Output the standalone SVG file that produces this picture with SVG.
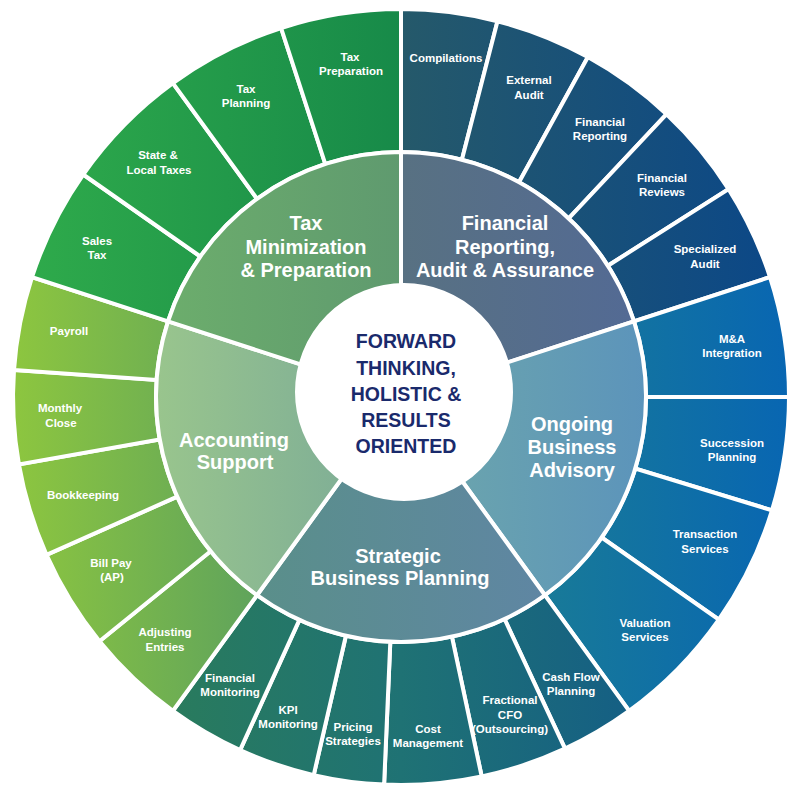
<svg xmlns="http://www.w3.org/2000/svg" width="800" height="800" viewBox="0 0 800 800">
<style>
.seg{stroke:#fff;stroke-width:4;stroke-linejoin:miter}
.o{font-family:"Liberation Sans",Arial,sans-serif;font-weight:bold;font-size:11.5px;fill:#fff;text-anchor:middle}
.i{font-family:"Liberation Sans",Arial,sans-serif;font-weight:bold;font-size:20px;fill:#fff;text-anchor:middle}
.c{font-family:"Liberation Sans",Arial,sans-serif;font-weight:bold;font-size:19.5px;fill:#1a2a6c;text-anchor:middle}
</style>
<defs>
<linearGradient id="gTaxO" gradientUnits="userSpaceOnUse" x1="20" y1="0" x2="401" y2="0"><stop offset="0" stop-color="#2fab4b"/><stop offset="1" stop-color="#178a49"/></linearGradient>
<linearGradient id="gAccO" gradientUnits="userSpaceOnUse" x1="13" y1="0" x2="260" y2="0"><stop offset="0" stop-color="#8dc63f"/><stop offset="1" stop-color="#5fa35c"/></linearGradient>
<linearGradient id="gStrO" gradientUnits="userSpaceOnUse" x1="172" y1="0" x2="630" y2="0"><stop offset="0" stop-color="#297b5d"/><stop offset="0.5" stop-color="#1f7274"/><stop offset="1" stop-color="#155f84"/></linearGradient>
<linearGradient id="gOngO" gradientUnits="userSpaceOnUse" x1="545" y1="0" x2="789" y2="0"><stop offset="0" stop-color="#187a98"/><stop offset="1" stop-color="#0866b2"/></linearGradient>
<linearGradient id="gFinO" gradientUnits="userSpaceOnUse" x1="401" y1="0" x2="770" y2="0"><stop offset="0" stop-color="#25596a"/><stop offset="1" stop-color="#0c4887"/></linearGradient>
<linearGradient id="gTaxI" gradientUnits="userSpaceOnUse" x1="168" y1="0" x2="401" y2="0"><stop offset="0" stop-color="#6cad6c"/><stop offset="1" stop-color="#5f9a6f"/></linearGradient>
<linearGradient id="gFinI" gradientUnits="userSpaceOnUse" x1="401" y1="0" x2="634" y2="0"><stop offset="0" stop-color="#587182"/><stop offset="1" stop-color="#536a94"/></linearGradient>
<linearGradient id="gOngI" gradientUnits="userSpaceOnUse" x1="401" y1="0" x2="646" y2="0"><stop offset="0" stop-color="#6ea8aa"/><stop offset="1" stop-color="#5c94bb"/></linearGradient>
<linearGradient id="gStrI" gradientUnits="userSpaceOnUse" x1="257" y1="0" x2="545" y2="0"><stop offset="0" stop-color="#5a8f8a"/><stop offset="1" stop-color="#5f86a3"/></linearGradient>
<linearGradient id="gAccI" gradientUnits="userSpaceOnUse" x1="156" y1="0" x2="401" y2="0"><stop offset="0" stop-color="#99c58d"/><stop offset="1" stop-color="#79a998"/></linearGradient>
</defs>
<rect width="800" height="800" fill="#fff"/>

<g id="outer-ring">
<g id="fin-outer" fill="url(#gFinO)">
<path class="seg" d="M401 9 A388 388 0 0 1 497.5 21.2 L461.9 159.7 A245 245 0 0 0 401 152 Z"/>
<path class="seg" d="M497.5 21.2 A388 388 0 0 1 587.9 57 L519 182.3 A245 245 0 0 0 461.9 159.7 Z"/>
<path class="seg" d="M587.9 57 A388 388 0 0 1 666.6 114.2 L568.7 218.4 A245 245 0 0 0 519 182.3 Z"/>
<path class="seg" d="M666.6 114.2 A388 388 0 0 1 728.6 189.1 L607.9 265.7 A245 245 0 0 0 568.7 218.4 Z"/>
<path class="seg" d="M728.6 189.1 A388 388 0 0 1 770 277.1 L634 321.3 A245 245 0 0 0 607.9 265.7 Z"/>
</g>
<g id="ong-outer" fill="url(#gOngO)">
<path class="seg" d="M770 277.1 A388 388 0 0 1 789 397 L646 397 A245 245 0 0 0 634 321.3 Z"/>
<path class="seg" d="M789 397 A388 388 0 0 1 772 510.4 L635.3 468.6 A245 245 0 0 0 646 397 Z"/>
<path class="seg" d="M772 510.4 A388 388 0 0 1 718.8 619.6 L601.7 537.5 A245 245 0 0 0 635.3 468.6 Z"/>
<path class="seg" d="M718.8 619.6 A388 388 0 0 1 629.1 710.9 L545 595.2 A245 245 0 0 0 601.7 537.5 Z"/>
</g>
<g id="str-outer" fill="url(#gStrO)">
<path class="seg" d="M629.1 710.9 A388 388 0 0 1 565 748.6 L504.5 619 A245 245 0 0 0 545 595.2 Z"/>
<path class="seg" d="M565 748.6 A388 388 0 0 1 481.7 776.5 L451.9 636.6 A245 245 0 0 0 504.5 619 Z"/>
<path class="seg" d="M481.7 776.5 A388 388 0 0 1 384.1 784.6 L390.3 641.8 A245 245 0 0 0 451.9 636.6 Z"/>
<path class="seg" d="M384.1 784.6 A388 388 0 0 1 313.7 775.1 L345.9 635.7 A245 245 0 0 0 390.3 641.8 Z"/>
<path class="seg" d="M313.7 775.1 A388 388 0 0 1 240.1 750.1 L299.4 619.9 A245 245 0 0 0 345.9 635.7 Z"/>
<path class="seg" d="M240.1 750.1 A388 388 0 0 1 172.9 710.9 L257 595.2 A245 245 0 0 0 299.4 619.9 Z"/>
</g>
<g id="acc-outer" fill="url(#gAccO)">
<path class="seg" d="M172.9 710.9 A388 388 0 0 1 99.5 641.2 L210.6 551.2 A245 245 0 0 0 257 595.2 Z"/>
<path class="seg" d="M99.5 641.2 A388 388 0 0 1 46.5 554.8 L177.2 496.7 A245 245 0 0 0 210.6 551.2 Z"/>
<path class="seg" d="M46.5 554.8 A388 388 0 0 1 18.9 464.4 L159.7 439.5 A245 245 0 0 0 177.2 496.7 Z"/>
<path class="seg" d="M18.9 464.4 A388 388 0 0 1 14 369.9 L156.6 379.9 A245 245 0 0 0 159.7 439.5 Z"/>
<path class="seg" d="M14 369.9 A388 388 0 0 1 32 277.1 L168 321.3 A245 245 0 0 0 156.6 379.9 Z"/>
</g>
<g id="tax-outer" fill="url(#gTaxO)">
<path class="seg" d="M32 277.1 A388 388 0 0 1 83.2 174.5 L200.3 256.5 A245 245 0 0 0 168 321.3 Z"/>
<path class="seg" d="M83.2 174.5 A388 388 0 0 1 172.9 83.1 L257 198.8 A245 245 0 0 0 200.3 256.5 Z"/>
<path class="seg" d="M172.9 83.1 A388 388 0 0 1 281.1 28 L325.3 164 A245 245 0 0 0 257 198.8 Z"/>
<path class="seg" d="M281.1 28 A388 388 0 0 1 401 9 L401 152 A245 245 0 0 0 325.3 164 Z"/>
</g>
</g>

<g id="inner-ring">
<path id="fin-inner" class="seg" fill="url(#gFinI)" d="M401 397 L401 152 A245 245 0 0 1 634 321.3 Z"/>
<path id="ong-inner" class="seg" fill="url(#gOngI)" d="M401 397 L634 321.3 A245 245 0 0 1 545 595.2 Z"/>
<path id="str-inner" class="seg" fill="url(#gStrI)" d="M401 397 L545 595.2 A245 245 0 0 1 257 595.2 Z"/>
<path id="acc-inner" class="seg" fill="url(#gAccI)" d="M401 397 L257 595.2 A245 245 0 0 1 168 321.3 Z"/>
<path id="tax-inner" class="seg" fill="url(#gTaxI)" d="M401 397 L168 321.3 A245 245 0 0 1 401 152 Z"/>
</g>

<g id="center">
<circle cx="404" cy="392" r="108" fill="#fff" stroke="#fff" stroke-width="2"/>
<text class="c" x="406" y="348">FORWARD</text>
<text class="c" x="406" y="374.5">THINKING,</text>
<text class="c" x="406" y="400.5">HOLISTIC &amp;</text>
<text class="c" x="406" y="427">RESULTS</text>
<text class="c" x="406" y="453">ORIENTED</text>
</g>

<g id="inner-labels">
<text class="i" x="306"><tspan x="306" y="230">Tax</tspan><tspan x="306" y="253.5">Minimization</tspan><tspan x="306" y="277">&amp; Preparation</tspan></text>
<text class="i" x="505"><tspan x="505" y="230">Financial</tspan><tspan x="505" y="253.5">Reporting,</tspan><tspan x="505" y="277">Audit &amp; Assurance</tspan></text>
<text class="i" x="572"><tspan x="572" y="431">Ongoing</tspan><tspan x="572" y="454">Business</tspan><tspan x="572" y="477">Advisory</tspan></text>
<text class="i" x="399"><tspan x="398" y="563">Strategic</tspan><tspan x="400" y="585">Business Planning</tspan></text>
<text class="i" x="234"><tspan x="234" y="447">Accounting</tspan><tspan x="235" y="469">Support</tspan></text>
</g>

<g id="outer-labels">
<text class="o" x="446" y="62">Compilations</text>
<text class="o"><tspan x="529" y="84">External</tspan><tspan x="529" y="99">Audit</tspan></text>
<text class="o"><tspan x="600" y="126">Financial</tspan><tspan x="600" y="140">Reporting</tspan></text>
<text class="o"><tspan x="662" y="182">Financial</tspan><tspan x="662" y="196">Reviews</tspan></text>
<text class="o"><tspan x="705" y="253">Specialized</tspan><tspan x="705" y="268">Audit</tspan></text>
<text class="o"><tspan x="732" y="343">M&amp;A</tspan><tspan x="732" y="357">Integration</tspan></text>
<text class="o"><tspan x="732" y="447">Succession</tspan><tspan x="732" y="461">Planning</tspan></text>
<text class="o"><tspan x="705" y="538">Transaction</tspan><tspan x="705" y="553">Services</tspan></text>
<text class="o"><tspan x="645" y="627">Valuation</tspan><tspan x="645" y="641">Services</tspan></text>
<text class="o"><tspan x="571" y="681">Cash Flow</tspan><tspan x="571" y="695">Planning</tspan></text>
<text class="o"><tspan x="510" y="704">Fractional</tspan><tspan x="510" y="719">CFO</tspan><tspan x="510" y="733">(Outsourcing)</tspan></text>
<text class="o"><tspan x="428" y="733">Cost</tspan><tspan x="428" y="747">Management</tspan></text>
<text class="o"><tspan x="353" y="731">Pricing</tspan><tspan x="353" y="745">Strategies</tspan></text>
<text class="o"><tspan x="288" y="714">KPI</tspan><tspan x="288" y="728">Monitoring</tspan></text>
<text class="o"><tspan x="230" y="682">Financial</tspan><tspan x="230" y="696">Monitoring</tspan></text>
<text class="o"><tspan x="165" y="636">Adjusting</tspan><tspan x="165" y="651">Entries</tspan></text>
<text class="o"><tspan x="111" y="567">Bill Pay</tspan><tspan x="112" y="581">(AP)</tspan></text>
<text class="o" x="83" y="499">Bookkeeping</text>
<text class="o"><tspan x="60" y="412">Monthly</tspan><tspan x="61" y="427">Close</tspan></text>
<text class="o" x="69" y="335">Payroll</text>
<text class="o"><tspan x="97" y="245">Sales</tspan><tspan x="97" y="259">Tax</tspan></text>
<text class="o"><tspan x="158" y="159">State &amp;</tspan><tspan x="159" y="174">Local Taxes</tspan></text>
<text class="o"><tspan x="246" y="93">Tax</tspan><tspan x="246" y="107">Planning</tspan></text>
<text class="o"><tspan x="350" y="61">Tax</tspan><tspan x="351" y="75">Preparation</tspan></text>
</g>
</svg>
